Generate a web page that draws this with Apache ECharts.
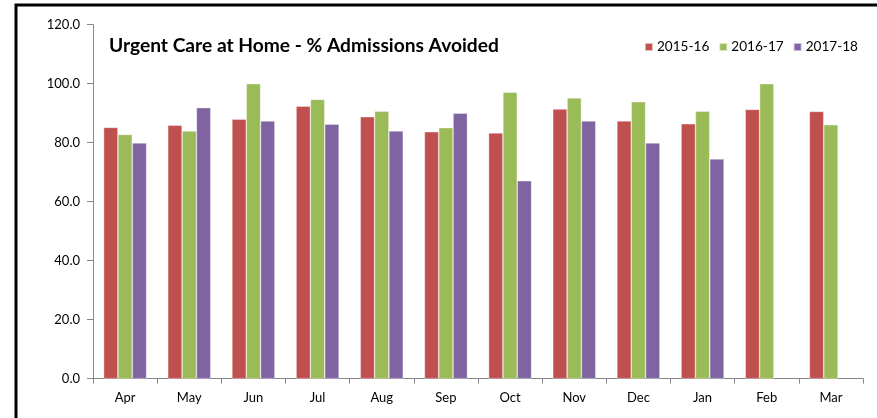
<!DOCTYPE html>
<html><head><meta charset="utf-8">
<script src="https://cdn.jsdelivr.net/npm/echarts@6/dist/echarts.min.js"></script>
<style>html,body{margin:0;padding:0;background:#fff}#c{width:877px;height:418px}</style>
</head><body><div id="c"></div>
<script>
const categories = ['Apr','May','Jun','Jul','Aug','Sep','Oct','Nov','Dec','Jan','Feb','Mar'];
const s2015 = [85.2, 85.9, 88.0, 92.4, 88.8, 83.7, 83.3, 91.4, 87.4, 86.4, 91.3, 90.6];
const s2016 = [82.8, 84.0, 100.0, 94.7, 90.7, 85.1, 97.1, 95.2, 93.9, 90.7, 100.0, 86.1];
const s2017 = [79.9, 91.9, 87.4, 86.3, 84.0, 90.0, 67.1, 87.4, 79.9, 74.5, null, null];
const seriesNames = ['2015-16','2016-17','2017-18'];
const colors = ['#C0504D','#9BBB59','#8064A2'];
const font = 'Lato, "Open Sans", sans-serif';

const chart = echarts.init(document.getElementById('c'), null, {renderer:'canvas'});
const mk = (name, data, color) => ({
  name, type:'bar', data, barGap:'0%', barCategoryGap:'33%',
  itemStyle:{color, borderColor:'rgba(255,255,255,0.6)', borderWidth:0.6},
  emphasis:{disabled:true}
});
chart.setOption({
  animation:false,
  color:colors,
  title:{text:'Urgent Care at Home - % Admissions Avoided', left:104, top:31,
    textStyle:{fontFamily:font, fontSize:19.2, fontWeight:'bold', color:'#000'}},
  legend:{data:seriesNames, right:14, top:35, itemWidth:8, itemHeight:8, itemGap:9,
    icon:'rect', textStyle:{fontFamily:font, fontSize:13.6, color:'#000', padding:[0,0,0,-1]}},
  grid:{left:93, right:14, top:24.7, bottom:39.3, containLabel:false},
  xAxis:{type:'category', data:categories,
    axisLine:{lineStyle:{color:'#868686', width:1}},
    axisTick:{show:true, length:5, lineStyle:{color:'#868686'}, alignWithLabel:false},
    axisLabel:{fontFamily:font, fontSize:13, color:'#000', margin:13}},
  yAxis:{type:'value', min:0, max:120, interval:20,
    axisLine:{show:true, lineStyle:{color:'#868686'}},
    axisTick:{show:true, length:6, lineStyle:{color:'#868686'}},
    splitLine:{show:false},
    axisLabel:{fontFamily:font, fontSize:13, color:'#000', margin:13, formatter:v=>v.toFixed(1)}},
  graphic:[{type:'rect', shape:{x:16, y:5, width:2000, height:2000},
    style:{fill:null, stroke:'#000', lineWidth:3}, silent:true, z:100}],
  series:[mk(seriesNames[0], s2015, colors[0]), mk(seriesNames[1], s2016, colors[1]), mk(seriesNames[2], s2017, colors[2])]
});
</script></body></html>
